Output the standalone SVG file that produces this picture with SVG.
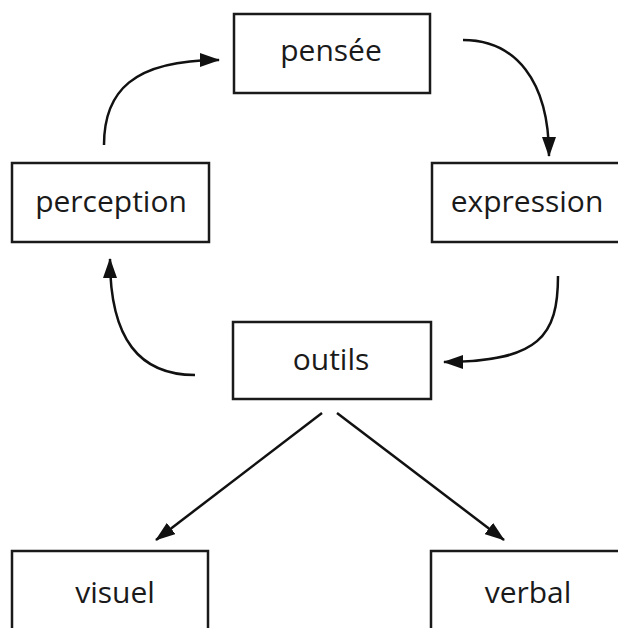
<svg xmlns="http://www.w3.org/2000/svg" width="618" height="628" viewBox="0 0 618 628">
  <defs>
    <style>
      .box { fill: #ffffff; stroke: #1a1a1a; stroke-width: 2.5; }
      .lbl { font-family: "Open Sans", "Liberation Sans", sans-serif; font-size: 30px; fill: #1a1a1a; text-anchor: middle; }
      .edge { fill: none; stroke: #111111; stroke-width: 2.5; }
    </style>
    <marker id="arrow" viewBox="0 0 20 14" refX="19" refY="7" markerWidth="20" markerHeight="14" markerUnits="userSpaceOnUse" orient="auto">
      <path d="M0,0 L20,7 L0,14 Z" fill="#111111"/>
    </marker>
  </defs>
  <rect width="618" height="628" fill="#ffffff"/>
  <g id="connectors">
    <path class="edge" d="M104,145 C104,92 132,60 219,60" marker-end="url(#arrow)"/>
    <path class="edge" d="M463,40 C515,40 549,80 549,156" marker-end="url(#arrow)"/>
    <path class="edge" d="M558,276 C558,335 540,362 444,362" marker-end="url(#arrow)"/>
    <path class="edge" d="M195,375 C140,375 110,340 110,259" marker-end="url(#arrow)"/>
    <path class="edge" d="M322,413 L156,540" marker-end="url(#arrow)"/>
    <path class="edge" d="M337,413 L504,540" marker-end="url(#arrow)"/>
  </g>
  <g id="pensee">
    <rect class="box" x="234" y="14" width="196" height="79"/>
    <text class="lbl" x="331" y="61">pensée</text>
  </g>
  <g id="perception">
    <rect class="box" x="12" y="163" width="197" height="79"/>
    <text class="lbl" x="111" y="212">perception</text>
  </g>
  <g id="expression">
    <rect class="box" x="432" y="163" width="197" height="79"/>
    <text class="lbl" x="527" y="212">expression</text>
  </g>
  <g id="outils">
    <rect class="box" x="233" y="322" width="198" height="77"/>
    <text class="lbl" x="331" y="370">outils</text>
  </g>
  <g id="visuel">
    <rect class="box" x="12" y="551" width="196" height="79"/>
    <text class="lbl" x="115" y="603">visuel</text>
  </g>
  <g id="verbal">
    <rect class="box" x="431" y="551" width="197" height="79"/>
    <text class="lbl" x="528" y="603">verbal</text>
  </g>
</svg>
